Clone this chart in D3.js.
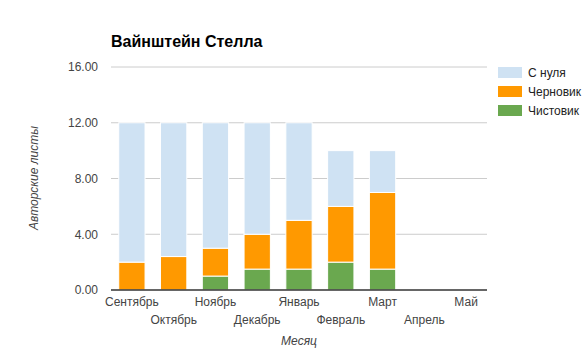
<!DOCTYPE html>
<html><head><meta charset="utf-8">
<script src="https://cdn.jsdelivr.net/npm/d3@7"></script>
<style>body{margin:0;background:#fff}svg{display:block;font-family:Arial,"Liberation Sans",sans-serif}</style>
</head><body><svg id="c" width="585" height="348"></svg>
<script>
const months = ["Сентябрь","Октябрь","Ноябрь","Декабрь","Январь","Февраль","Март","Апрель","Май"];
const clean = [0,0,1,1.5,1.5,2,1.5,0,0];          // Чистовик
const draft = [2,2.4,2,2.5,3.5,4,5.5,0,0];         // Черновик
const fromZero = [10,9.6,9,8,7,4,3,0,0];           // С нуля
const yTicks = [0,4,8,12,16];
const seriesNames = ["Чистовик","Черновик","С нуля"];
const colors = ["#6aa84f","#ff9900","#cfe2f3"];
const legendOrder = ["С нуля","Черновик","Чистовик"];

const svg = d3.select("#c");
const L=111, R=487, T=67, B=290;
const x = d3.scaleBand().domain(months).range([L,R]).paddingInner(0.37).paddingOuter(0.185);
const y = d3.scaleLinear().domain([0,16]).range([B,T]);

const rows = months.map((m,i)=>({m, "Чистовик":clean[i], "Черновик":draft[i], "С нуля":fromZero[i]}));
const stack = d3.stack().keys(seriesNames)(rows);

// gridlines
svg.append("g").selectAll("line").data(yTicks.filter(d=>d>0)).join("line")
  .attr("x1",L).attr("x2",R).attr("y1",d=>y(d)).attr("y2",d=>y(d))
  .attr("stroke","#cccccc").attr("stroke-width",1);

// bars
svg.append("g").selectAll("g").data(stack).join("g")
  .attr("fill",(d,i)=>colors[i])
  .selectAll("rect").data(d=>d.filter(s=>s[1]-s[0]>0)).join("rect")
  .attr("x",d=>x(d.data.m)).attr("width",x.bandwidth())
  .attr("y",d=>y(d[1])).attr("height",d=>y(d[0])-y(d[1]))
  .attr("stroke","#fff").attr("stroke-width",1);

// baseline
svg.append("line").attr("x1",L).attr("x2",R).attr("y1",B).attr("y2",B).attr("stroke","#333").attr("stroke-width",1.5);

// y axis labels
const yAxis = d3.axisLeft(y).tickValues(yTicks).tickFormat(d3.format(".2f")).tickSize(0).tickPadding(13);
const ya = svg.append("g").attr("transform",`translate(${L},0)`).call(yAxis);
ya.select(".domain").remove();
ya.selectAll("text").attr("font-size",12).attr("fill","#444").attr("font-family","Arial,'Liberation Sans',sans-serif");

// x axis labels (staggered)
const xAxis = d3.axisBottom(x).tickSize(0).tickPadding(0);
const xa = svg.append("g").attr("transform",`translate(0,${B})`).call(xAxis);
xa.select(".domain").remove();
xa.selectAll("text").attr("font-size",12).attr("fill","#444").attr("font-family","Arial,'Liberation Sans',sans-serif")
  .attr("dy",null).attr("y",(d,i)=> i%2===0 ? 16 : 34);

// title
svg.append("text").attr("x",L).attr("y",47).attr("font-size",16).attr("font-weight","bold").attr("fill","#000")
  .text("Вайнштейн Стелла");

// axis titles
svg.append("text").attr("transform","translate(38,178) rotate(-90)").attr("text-anchor","middle")
  .attr("font-size",12).attr("font-style","italic").attr("fill","#444").text("Авторские листы");
svg.append("text").attr("x",(L+R)/2).attr("y",345).attr("text-anchor","middle")
  .attr("font-size",12).attr("font-style","italic").attr("fill","#444").text("Месяц");

// legend
const lg = svg.append("g").selectAll("g").data(legendOrder).join("g")
  .attr("transform",(d,i)=>`translate(498,${67+i*19})`);
lg.append("rect").attr("width",24).attr("height",11).attr("fill",d=>colors[seriesNames.indexOf(d)]);
lg.append("text").attr("x",30).attr("y",10).attr("font-size",12).attr("fill","#222").text(d=>d);
</script></body></html>
